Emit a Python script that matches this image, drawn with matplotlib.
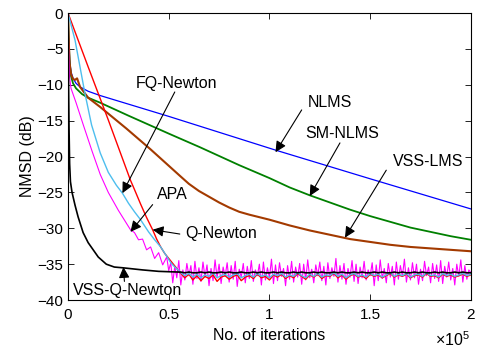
import matplotlib
matplotlib.use('Agg')
import matplotlib.pyplot as plt
import numpy as np

plt.rcParams['font.family'] = ['Liberation Sans', 'DejaVu Sans']
plt.rcParams['mathtext.fontset'] = 'custom'
plt.rcParams['mathtext.rm'] = 'Liberation Sans'

# iterations in units of 1e5, NMSD in dB
nlms_x = [0, 0.003, 0.008, 0.015, 0.025, 0.04, 0.06, 0.1, 0.16, 0.5, 1.03, 1.5, 2.0]
nlms_y = [0, -3, -6.5, -8.2, -9.1, -9.8, -10.3, -10.9, -11.5, -14.4, -19.1, -23.1, -27.3]

smnlms_x = [0, 0.003, 0.008, 0.015, 0.025, 0.04, 0.07, 0.1, 0.16, 0.3, 0.5, 0.655, 0.85,
            1.0, 1.1, 1.2, 1.3, 1.4, 1.5, 1.6, 1.7, 1.8, 1.9, 2.0]
smnlms_y = [0, -3.5, -7, -8.8, -9.8, -10.5, -11.3, -11.8, -12.5, -14.3, -16.8, -18.7, -21.2,
            -23.0, -24.3, -25.4, -26.4, -27.4, -28.3, -29.1, -29.9, -30.5, -31.1, -31.6]

vsslms_x = [0, 0.003, 0.008, 0.015, 0.025, 0.035, 0.045, 0.06, 0.1, 0.16, 0.29, 0.41, 0.56,
            0.6, 0.65, 0.7, 0.75, 0.8, 0.85, 0.9, 1.0, 1.1, 1.2, 1.3, 1.4, 1.5, 1.6, 1.7,
            1.8, 1.9, 2.0]
vsslms_y = [0, -3.5, -7, -8.5, -9.2, -9.3, -9.1, -10.3, -11.8, -13.1, -16.1, -19.0, -22.8,
            -23.8, -24.8, -25.6, -26.4, -27.1, -27.7, -28.1, -28.8, -29.6, -30.3, -30.9,
            -31.5, -31.9, -32.3, -32.6, -32.8, -33.0, -33.2]

fq_x = [0, 0.035, 0.084, 0.117, 0.16, 0.2, 0.24, 0.27, 0.3, 0.33, 0.36, 0.4, 0.43, 0.46,
        0.49, 0.51, 0.53, 0.55]
fq_y = [0, -3.8, -11.2, -15.6, -19.5, -22.2, -24.0, -25.1, -26.5, -27.7, -28.8, -30.5, -31.6,
        -32.6, -33.9, -34.8, -35.4, -35.9]

apa_x = [0, 0.003, 0.008, 0.015, 0.04, 0.076, 0.12, 0.16, 0.2, 0.25, 0.31, 0.33, 0.35, 0.37,
         0.39, 0.41, 0.43, 0.45, 0.47, 0.49, 0.5]
apa_y = [0, -5, -9, -10.5, -12.5, -15.6, -19.3, -22.5, -25.0, -27.5, -30.2, -30.6, -31.6,
         -31.5, -33.0, -32.6, -34.2, -33.4, -35.1, -34.0, -35.9]

qn_x = [0, 0.1, 0.2, 0.31, 0.33, 0.36, 0.39, 0.42, 0.44, 0.46, 0.48, 0.5, 0.52, 0.54, 0.55]
qn_y = [0, -7.5, -14.9, -23.3, -24.6, -26.6, -28.5, -30.2, -31.5, -32.6, -33.5, -34.2, -34.9,
        -35.6, -36.0]

vssqn_x = [0, 0.002, 0.005, 0.008, 0.012, 0.02, 0.035, 0.05, 0.075, 0.1, 0.125, 0.15, 0.19,
           0.23, 0.27, 0.37, 0.45, 0.55]
vssqn_y = [0, -8, -16, -21, -23.5, -25, -26.8, -28.4, -30.6, -32, -33, -34, -35, -35.4, -35.5,
           -35.8, -36.0, -36.1]

# APA steady state, 150 samples from 0.51 to 2.0
apa_ss = [-34.8, -37.6, -35.3, -36.9, -34.5, -37.9, -35.8, -37.2, -34.9, -36.6, -35.2, -37.8,
          -34.6, -37.0, -35.5, -37.4, -34.7, -36.8, -35.1, -38.0, -35.6, -37.3, -34.4, -36.9,
          -35.0, -37.7, -35.4, -36.7, -34.8, -37.5, -35.2, -37.1, -34.6, -38.1, -35.7, -36.8,
          -34.9, -37.6, -35.3, -37.0, -34.5, -37.4, -35.8, -36.6, -35.0, -37.9, -34.7, -37.2,
          -35.5, -36.9, -34.3, -37.7, -35.1, -37.3, -34.8, -36.7, -35.6, -38.0, -35.2, -37.1,
          -34.6, -37.5, -35.4, -36.8, -34.9, -37.8, -35.0, -37.2, -34.4, -36.9, -35.7, -37.6,
          -35.1, -36.6, -34.7, -37.3, -35.3, -37.9, -34.8, -37.0, -35.5, -36.7, -34.2, -37.5,
          -35.2, -37.1, -34.9, -37.8, -35.6, -36.8, -34.5, -37.4, -35.0, -37.7, -35.4, -36.9,
          -34.6, -37.2, -35.8, -36.6, -34.8, -38.0, -35.1, -37.3, -34.4, -37.0, -35.6, -37.6,
          -34.9, -36.8, -35.3, -37.9, -34.7, -37.1, -35.2, -36.7, -34.3, -37.5, -35.5, -37.2,
          -34.8, -36.9, -35.0, -37.8, -35.7, -37.3, -34.6, -36.6, -35.4, -37.6, -34.9, -37.0,
          -35.1, -37.4, -34.5, -37.7, -35.3, -36.8, -34.7, -37.2, -35.6, -37.9, -35.0, -36.7,
          -34.4, -37.5, -35.2, -37.1, -35.8, -36.2]

# other algorithms' steady state, 73 samples from 0.56 to 2.0
fq_ss = [-36.2, -36.6, -36.3, -36.8, -36.4, -36.9, -36.5, -36.7, -36.2, -36.9, -36.6, -36.4,
         -36.8, -36.5, -36.3, -36.9, -36.6, -36.4, -36.8, -36.3, -36.7, -36.5, -36.9, -36.4,
         -36.6, -36.3, -36.8, -36.5, -36.7, -36.2, -36.6, -36.9, -36.4, -36.7, -36.3, -36.8,
         -36.5, -36.6, -36.2, -36.7, -36.4, -36.9, -36.5, -36.3, -36.7, -36.5, -36.8, -36.3,
         -36.6, -36.4, -36.8, -36.5, -36.2, -36.7, -36.4, -36.6, -36.3, -36.8, -36.5, -36.4,
         -36.7, -36.2, -36.6, -36.5, -36.8, -36.3, -36.6, -36.4, -36.7, -36.5, -36.3, -36.6,
         -36.4]
qn_ss = [-36.3, -36.9, -36.4, -37.2, -36.6, -37.3, -36.7, -37.0, -36.5, -37.4, -36.8, -36.6,
         -37.1, -36.7, -36.5, -37.3, -36.8, -36.6, -37.0, -36.4, -36.9, -36.7, -37.2, -36.5,
         -36.8, -36.4, -37.0, -36.6, -36.9, -36.3, -36.7, -37.1, -36.5, -36.8, -36.4, -37.0,
         -36.6, -36.7, -36.3, -36.9, -36.5, -37.1, -36.6, -36.4, -36.8, -36.6, -37.0, -36.4,
         -36.7, -36.5, -36.9, -36.6, -36.3, -36.8, -36.5, -36.7, -36.4, -36.9, -36.6, -36.5,
         -36.8, -36.3, -36.7, -36.6, -36.9, -36.4, -36.7, -36.5, -36.8, -36.6, -36.4, -36.7,
         -36.5]
vssqn_ss = [-36.1, -36.2, -36.1, -36.2, -36.2, -36.1, -36.2, -36.1, -36.2, -36.2, -36.1, -36.2,
            -36.1, -36.2, -36.2, -36.1, -36.2, -36.2, -36.1, -36.2, -36.1, -36.2, -36.2, -36.1,
            -36.2, -36.1, -36.2, -36.2, -36.1, -36.2, -36.1, -36.2, -36.2, -36.1, -36.2, -36.1,
            -36.2, -36.2, -36.1, -36.2, -36.1, -36.2, -36.2, -36.1, -36.2, -36.1, -36.2, -36.2,
            -36.1, -36.2, -36.1, -36.2, -36.2, -36.1, -36.2, -36.1, -36.2, -36.2, -36.1, -36.2,
            -36.1, -36.2, -36.2, -36.1, -36.2, -36.1, -36.2, -36.2, -36.1, -36.2, -36.1, -36.2,
            -36.2]

apa_ss_x = np.linspace(0.51, 2.0, len(apa_ss))
ss_x = np.linspace(0.56, 2.0, len(fq_ss))

fig = plt.figure(figsize=(4.8, 3.53), dpi=100)
ax = fig.add_axes([0.1417, 0.150, 0.8393, 0.813])

ax.plot(nlms_x, nlms_y, color='#0000ff', lw=0.9)
ax.plot(smnlms_x, smnlms_y, color='#008000', lw=1.3)
ax.plot(vsslms_x, vsslms_y, color='#a33a00', lw=1.5)
ax.plot(np.r_[apa_x, apa_ss_x], np.r_[apa_y, apa_ss], color='#ff00ff', lw=0.8)
ax.plot(np.r_[qn_x, ss_x], np.r_[qn_y, qn_ss], color='#ff0000', lw=1.0)
ax.plot(np.r_[fq_x, ss_x], np.r_[fq_y, fq_ss], color='#4dbeee', lw=1.0)
ax.plot(np.r_[vssqn_x, ss_x], np.r_[vssqn_y, vssqn_ss], color='black', lw=1.2)

ax.set_xlim(0, 2)
ax.set_ylim(-40, 0)
ax.set_xticks([0, 0.5, 1, 1.5, 2])
ax.set_xticklabels(['0', '0.5', '1', '1.5', '2'])
ax.set_yticks(np.arange(-40, 1, 5))
ax.tick_params(direction='in', top=True, right=True, length=4, width=0.6, labelsize=11)
ax.tick_params(axis='x', pad=6)
for s in ax.spines.values():
    s.set_linewidth(0.8)
ax.set_xlabel('No. of iterations', fontsize=11.5, labelpad=4)
ax.set_ylabel('NMSD (dB)', fontsize=11.5, labelpad=2)
fig.text(0.98, 0.012, r'$\times\mathregular{10^5}$', ha='right', va='bottom', fontsize=11.5)

arrow = dict(arrowstyle='-|>,head_length=0.65,head_width=0.32', color='black', lw=0.8,
             shrinkA=0, shrinkB=0)
# (label, text pos, tail, tip)
notes = [
    ('NLMS', (1.30, -12.4), (1.16, -13.5), (1.03, -19.4)),
    ('SM-NLMS', (1.36, -16.8), (1.35, -18.1), (1.2, -25.5)),
    ('VSS-LMS', (1.79, -20.7), (1.58, -21.9), (1.375, -31.3)),
    ('FQ-Newton', (0.54, -9.8), (0.53, -11.0), (0.27, -25.1)),
    ('APA', (0.52, -25.3), (0.42, -26.7), (0.31, -30.5)),
    ('Q-Newton', (0.76, -30.7), (0.555, -30.8), (0.42, -30.2)),
    ('VSS-Q-Newton', (0.295, -38.6), (0.28, -37.4), (0.275, -35.4)),
]
for label, txt, tail, tip in notes:
    ax.annotate('', xy=tip, xytext=tail, arrowprops=arrow)
    ax.text(txt[0], txt[1], label, ha='center', va='center', fontsize=11.5)

fig.savefig('out.png', dpi=100)
